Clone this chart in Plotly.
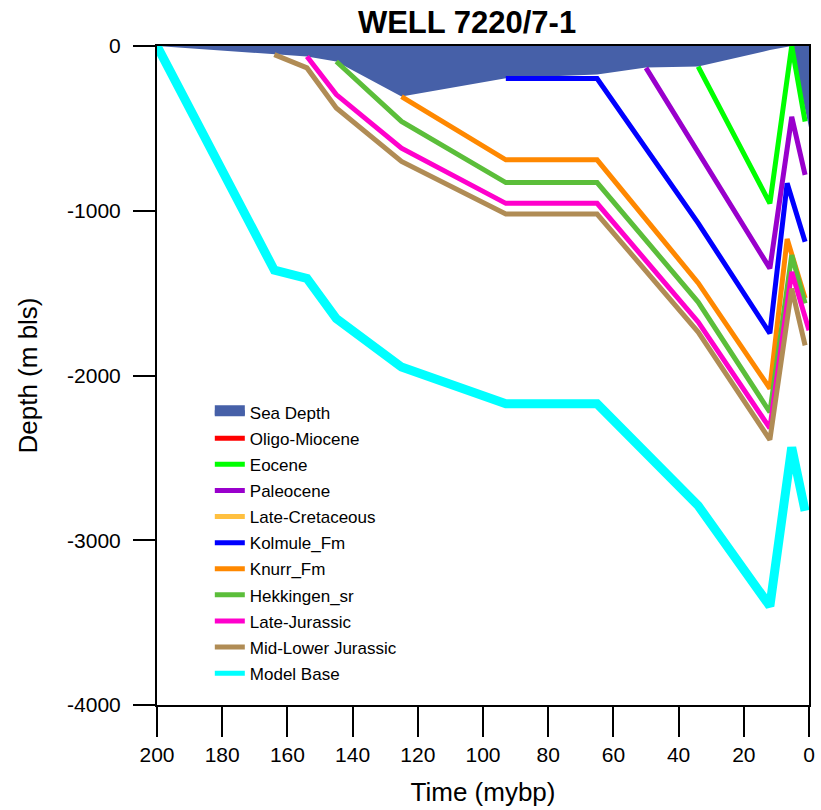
import plotly.graph_objects as go

# Burial history of well 7220/7-1: time in million years before present,
# depth in metres below sea level (negative downwards).

sea_time = [200, 164, 154, 145, 125, 93, 65, 50, 34, 12, 5.3, 0]
sea_depth = [0, -52, -64, -94, -307, -195, -173, -131, -125, -25, 0, -495]

oligo_miocene_time = [None]
oligo_miocene_depth = [None]

eocene_time = [34, 12, 5.3, 1.2]
eocene_depth = [-125, -955, 0, -458]

paleocene_time = [50, 34, 12, 5.3, 1.2]
paleocene_depth = [-133, -640, -1350, -430, -782]

late_cretaceous_time = [None]
late_cretaceous_depth = [None]

kolmule_time = [93, 65, 34, 12, 6.7, 1.2]
kolmule_depth = [-198, -198, -1075, -1744, -833, -1188]

knurr_time = [125, 93, 65, 34, 12, 6.7, 1.2]
knurr_depth = [-307, -691, -691, -1438, -2079, -1172, -1531]

hekkingen_time = [145, 125, 93, 65, 34, 12, 5.3, 1.2]
hekkingen_depth = [-94, -458, -829, -829, -1554, -2223, -1269, -1562]

late_jurassic_time = [154, 145, 125, 93, 65, 34, 12, 5.3, 0]
late_jurassic_depth = [-64, -295, -620, -955, -955, -1675, -2320, -1371, -1726]

mid_lower_jurassic_time = [164, 154, 145, 125, 93, 65, 34, 12, 5.3, 1.2]
mid_lower_jurassic_depth = [-52, -133, -376, -701, -1020, -1020, -1736, -2390, -1472, -1817]

model_base_time = [200, 164, 154, 145, 125, 93, 65, 34, 12, 5.3, 1.2]
model_base_depth = [0, -1361, -1411, -1655, -1949, -2172, -2172, -2790, -3400, -2436, -2822]

x_tick_vals = [200, 180, 160, 140, 120, 100, 80, 60, 40, 20, 0]
x_tick_text = ["200", "180", "160", "140", "120", "100", "80", "60", "40", "20", "0"]
y_tick_vals = [0, -1000, -2000, -3000, -4000]
y_tick_text = ["0", "-1000", "-2000", "-3000", "-4000"]

FONT = "Liberation Sans, Arial, sans-serif"
SEA_COLOR = "#4660A8"

horizons = [
    ("Oligo-Miocene", oligo_miocene_time, oligo_miocene_depth, "#FF0000", 5),
    ("Eocene", eocene_time, eocene_depth, "#00FF00", 5),
    ("Paleocene", paleocene_time, paleocene_depth, "#9900CC", 5),
    ("Late-Cretaceous", late_cretaceous_time, late_cretaceous_depth, "#FFC040", 5),
    ("Kolmule_Fm", kolmule_time, kolmule_depth, "#0000FF", 5),
    ("Knurr_Fm", knurr_time, knurr_depth, "#FF8800", 5),
    ("Hekkingen_sr", hekkingen_time, hekkingen_depth, "#5BBE3A", 5),
    ("Late-Jurassic", late_jurassic_time, late_jurassic_depth, "#FF00CC", 5),
    ("Mid-Lower Jurassic", mid_lower_jurassic_time, mid_lower_jurassic_depth, "#B08C55", 5),
    ("Model Base", model_base_time, model_base_depth, "#00FFFF", 9),
]
LEGEND_LINE_WIDTH = 5

fig = go.Figure()

# Sea-floor depth as a filled area; a separate legend entry gives a solid swatch.
fig.add_trace(go.Scatter(
    x=[None], y=[None], name="Sea Depth", mode="lines",
    fill="tozeroy", fillcolor=SEA_COLOR, line=dict(width=10, color=SEA_COLOR),
    legendgroup="Sea Depth", showlegend=True,
))
fig.add_trace(go.Scatter(
    x=sea_time, y=sea_depth, name="Sea Depth", mode="lines",
    fill="tozeroy", fillcolor=SEA_COLOR, line=dict(width=0, color=SEA_COLOR),
    legendgroup="Sea Depth", showlegend=False,
))

for name, t, d, color, width in horizons:
    fig.add_trace(go.Scatter(
        x=[None], y=[None], name=name, mode="lines",
        line=dict(color=color, width=LEGEND_LINE_WIDTH),
        legendgroup=name, showlegend=True,
    ))
    fig.add_trace(go.Scatter(
        x=t, y=d, name=name, mode="lines",
        line=dict(color=color, width=width),
        legendgroup=name, showlegend=False,
    ))

fig.update_layout(
    width=821, height=810,
    margin=dict(l=157, r=6, t=46, b=105),
    paper_bgcolor="white", plot_bgcolor="white",
    font=dict(family=FONT, color="black"),
    title=dict(
        text="<b>WELL 7220/7-1</b>", font=dict(size=31, family=FONT, color="black"),
        x=467 / 821, xref="container", xanchor="center",
        y=1 - 22 / 810, yref="container", yanchor="middle",
    ),
    showlegend=True,
    legend=dict(
        x=0.081, y=0.471, xanchor="left", yanchor="top",
        bgcolor="rgba(0,0,0,0)", borderwidth=0,
        font=dict(size=17, family=FONT, color="black"),
        traceorder="grouped", tracegroupgap=1,
        itemwidth=30,
    ),
)

fig.update_xaxes(
    range=[200, 0], tickvals=x_tick_vals, ticktext=x_tick_text,
    showgrid=False, zeroline=False,
    showline=True, linecolor="black", linewidth=2, mirror=True,
    ticks="outside", ticklen=30, tickwidth=2, tickcolor="black",
    tickfont=dict(size=21, family=FONT, color="black"),
    title=dict(text="Time (mybp)", font=dict(size=26, family=FONT, color="black"), standoff=18),
)

fig.update_yaxes(
    range=[-4000, 0], tickvals=y_tick_vals, ticktext=y_tick_text,
    showgrid=False, zeroline=False,
    showline=True, linecolor="black", linewidth=2, mirror=True,
    ticks="outside", ticklen=22, tickwidth=2, tickcolor="black",
    ticklabelstandoff=8,
    tickfont=dict(size=21, family=FONT, color="black"),
    title=dict(text="Depth (m bls)", font=dict(size=26, family=FONT, color="black"), standoff=22),
)

fig.write_html("out.html")
